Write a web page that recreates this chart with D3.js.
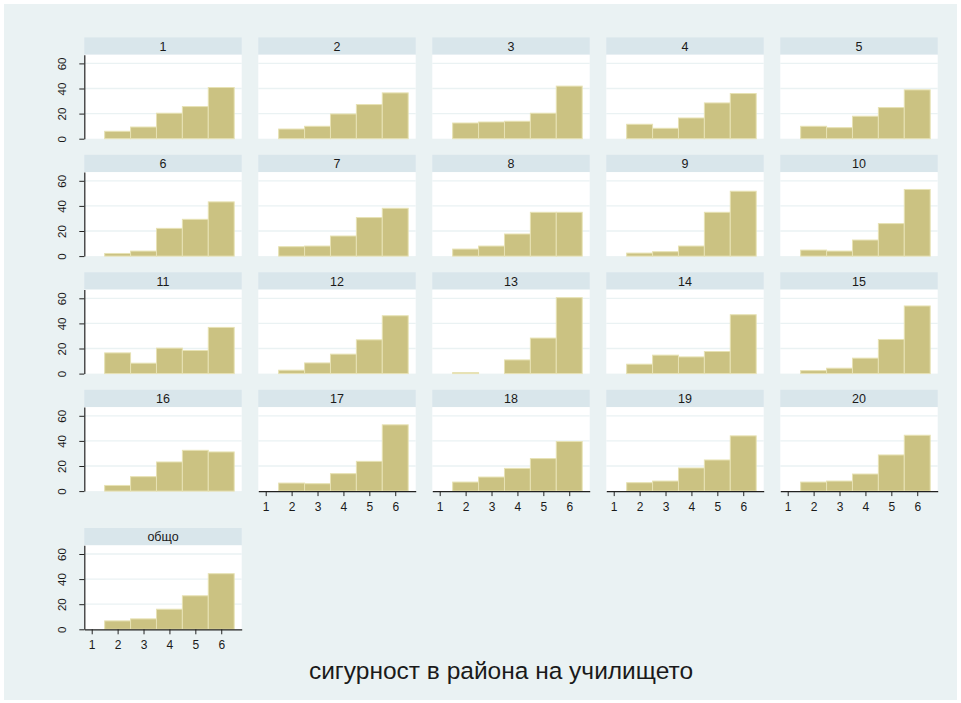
<!DOCTYPE html>
<html>
<head>
<meta charset="utf-8">
<script src="https://cdn.jsdelivr.net/npm/d3@7"></script>
<style>
  body { margin: 0; background: #ffffff; }
  text { font-family: "Liberation Sans", Arial, sans-serif; fill: #1a1a1a; }
</style>
</head>
<body>
<div id="chart"></div>
<script>
/* DATA */
var categories = [1, 2, 3, 4, 5, 6];
var panelNames = ["1", "2", "3", "4", "5", "6", "7", "8", "9", "10",
  "11", "12", "13", "14", "15", "16", "17", "18", "19", "20", "общо"];
/* percent per category 1..6, one row per panel */
var percents = [
  [0, 5.9, 9.3, 20.3, 25.6, 40.8],
  [0, 7.7, 9.9, 19.7, 27.2, 36.5],
  [0, 12.5, 13.3, 13.9, 20.3, 41.9],
  [0, 11.5, 8.3, 16.5, 28.5, 36.0],
  [0, 9.9, 8.8, 17.9, 24.8, 38.9],
  [0, 2.1, 4.0, 22.1, 29.3, 43.2],
  [0, 7.5, 8.0, 16.0, 30.7, 38.1],
  [0, 5.6, 8.0, 17.6, 34.9, 34.9],
  [0, 2.4, 3.5, 8.0, 34.9, 51.7],
  [0, 4.8, 4.0, 12.8, 25.9, 53.1],
  [0, 16.5, 8.3, 20.3, 18.4, 36.8],
  [0, 2.7, 8.5, 15.5, 26.9, 46.1],
  [0, 0.8, 0, 10.9, 28.3, 60.5],
  [0, 7.5, 14.7, 13.3, 17.6, 46.9],
  [0, 2.4, 4.3, 12.3, 27.2, 53.9],
  [0, 4.5, 11.5, 23.2, 32.5, 31.2],
  [0, 6.4, 5.9, 13.9, 23.7, 52.8],
  [0, 7.2, 11.2, 18.1, 25.9, 39.5],
  [0, 6.7, 8.0, 18.4, 24.8, 44.0],
  [0, 7.2, 8.0, 13.6, 28.8, 44.5],
  [0, 6.7, 8.3, 16.0, 26.7, 44.3]
];
var yTicks = [0, 20, 40, 60];
var xTitle = "сигурност в района на училището";

/* LAYOUT */
var W = 961, H = 703;
var ncol = 5;
var panelW = 157.4, plotH = 84, stripH = 17.3;
var colX0 = 84.3, colStep = 174;
var zeroY = [138.7, 256.1, 373.6, 491.1, 629.3];

var svg = d3.select("#chart").append("svg")
  .attr("width", W)
  .attr("height", H);

/* outer background */
svg.append("rect")
  .attr("x", 4).attr("y", 4)
  .attr("width", W - 8).attr("height", H - 7)
  .attr("fill", "#eaf2f3");

/* shared scales */
var x = d3.scaleLinear().domain([0.714, 6.79]).range([0, panelW]);
var y = d3.scaleLinear().domain([0, plotH / 25.1 * 20]).range([plotH, 0]);

panelNames.forEach(function (name, i) {
  var row = Math.floor(i / ncol), col = i % ncol;
  var px = colX0 + col * colStep;
  var py = zeroY[row] - plotH;
  var g = svg.append("g").attr("transform", "translate(" + px + "," + py + ")");

  /* strip */
  g.append("rect")
    .attr("x", 0).attr("y", -stripH)
    .attr("width", panelW).attr("height", stripH)
    .attr("fill", "#d9e6eb");
  g.append("text")
    .attr("x", panelW / 2).attr("y", -4)
    .attr("text-anchor", "middle")
    .style("font-size", "12.5px")
    .text(name);

  /* plot region */
  g.append("rect")
    .attr("width", panelW).attr("height", plotH)
    .attr("fill", "#ffffff");

  /* grid lines */
  g.selectAll(".grid").data(yTicks.slice(1)).enter().append("line")
    .attr("x1", 0).attr("x2", panelW)
    .attr("y1", function (d) { return y(d); })
    .attr("y2", function (d) { return y(d); })
    .attr("stroke", "#eaf2f3")
    .attr("stroke-width", 1.3);

  /* bars */
  var data = categories.map(function (c, k) { return { c: c, v: percents[i][k] }; })
    .filter(function (d) { return d.v > 0; });
  g.selectAll(".bar").data(data).enter().append("rect")
    .attr("x", function (d) { return x(d.c - 0.5); })
    .attr("width", function (d) { return x(d.c + 0.5) - x(d.c - 0.5); })
    .attr("y", function (d) { return y(d.v); })
    .attr("height", function (d) { return y(0) - y(d.v); })
    .attr("fill", "#cbc282")
    .attr("stroke", "#e7e2b4")
    .attr("stroke-width", 1);

  /* y axis only on first column */
  if (col === 0) {
    var ya = g.append("g")
      .call(d3.axisLeft(y).tickValues(yTicks).tickSize(5).tickSizeOuter(0));
    ya.attr("font-size", null);
    ya.select(".domain").attr("stroke", "#222");
    ya.selectAll(".tick line").attr("stroke", "#222");
    ya.selectAll("text")
      .attr("x", null).attr("dy", null)
      .attr("text-anchor", "middle")
      .attr("transform", "translate(-18.8,0) rotate(-90)")
      .style("font-size", "11.5px")
      .style("fill", "#1a1a1a");
  }

  /* x axis only where nothing sits below */
  if (i + ncol >= panelNames.length) {
    var xa = g.append("g")
      .attr("transform", "translate(0," + plotH + ")")
      .call(d3.axisBottom(x).tickValues(categories).tickFormat(d3.format("d"))
        .tickSize(5).tickSizeOuter(0).tickPadding(6));
    xa.attr("font-size", null);
    xa.select(".domain").attr("stroke", "#222");
    xa.selectAll(".tick line").attr("stroke", "#222");
    xa.selectAll("text")
      .style("font-size", "12px")
      .style("fill", "#1a1a1a");
  }
  svg.selectAll(".domain").attr("stroke-width", 1.2);
});

/* x title */
svg.append("text")
  .attr("x", 501).attr("y", 679)
  .attr("text-anchor", "middle")
  .style("font-size", "24.5px")
  .text(xTitle);
</script>
</body>
</html>
